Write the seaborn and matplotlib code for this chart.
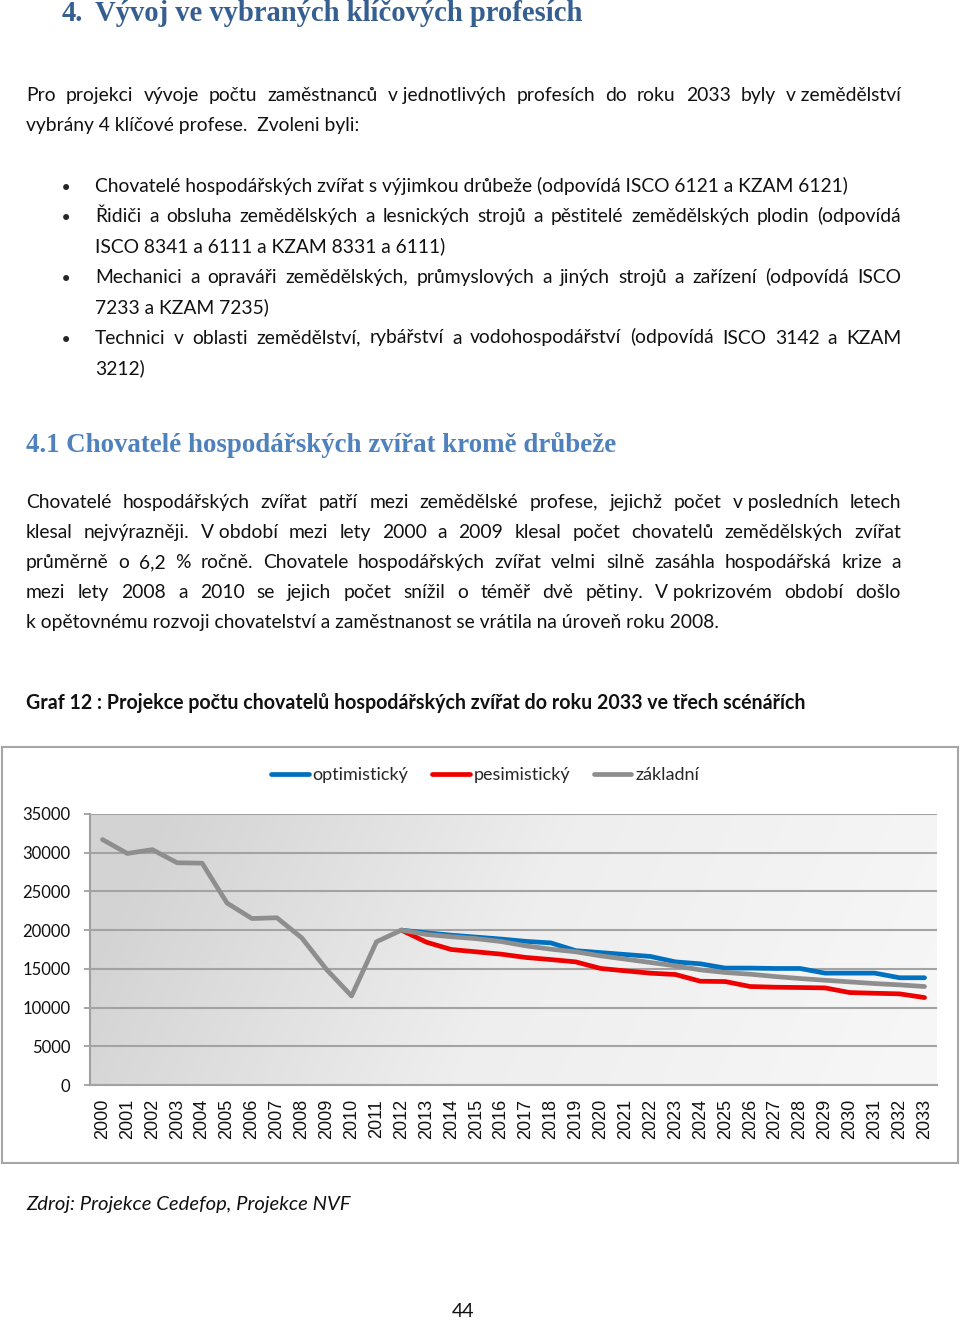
import numpy as np
import pandas as pd
import matplotlib
matplotlib.use("Agg")
import matplotlib.pyplot as plt
import seaborn as sns
from matplotlib.colors import LinearSegmentedColormap
from matplotlib.patches import Rectangle

# ---------------- data ----------------
years = list(range(2000, 2034))
zakladni = [31700, 29900, 30400, 28700, 28650, 23500, 21500, 21600, 19000, 14900,
            11500, 18500, 20000, 19450, 19150, 18900, 18530, 17970, 17540, 17200,
            16680, 16250, 15820, 15390, 14870, 14530, 14310, 14010, 13750, 13530,
            13320, 13100, 12930, 12720]
# projections start in 2012
proj_years = list(range(2012, 2034))
optimisticky = [20000, 19650, 19350, 19100, 18850, 18550, 18350, 17350, 17100, 16850,
                16600, 15900, 15650, 15100, 15100, 15050, 15050, 14450, 14450, 14450,
                13850, 13850]
pesimisticky = [20000, 18450, 17500, 17200, 16900, 16470, 16200, 15900, 15050, 14740,
                14440, 14270, 13400, 13360, 12720, 12630, 12590, 12540, 11940, 11850,
                11770, 11290]
scenare = ["optimistický", "pesimistický", "základní"]
barvy = ["#0070c0", "#ee0000", "#8e8e8e"]

heading = "Vývoj ve vybraných klíčových profesích"
intro = ["Pro projekci vývoje počtu zaměstnanců v\u00a0jednotlivých profesích do roku 2033 byly v\u00a0zemědělství",
         "vybrány 4 klíčové profese.  Zvoleni byli:"]
bullets = [
    ["Chovatelé hospodářských zvířat s výjimkou drůbeže (odpovídá ISCO 6121 a KZAM 6121)"],
    ["Řidiči a obsluha zemědělských a lesnických strojů a pěstitelé zemědělských plodin (odpovídá",
     "ISCO 8341 a 6111 a KZAM 8331 a 6111)"],
    ["Mechanici a opraváři zemědělských, průmyslových a jiných strojů a zařízení (odpovídá ISCO",
     "7233 a KZAM 7235)"],
    ["Technici v oblasti zemědělství, rybářství a vodohospodářství (odpovídá ISCO 3142 a KZAM",
     "3212)"],
]
subheading = "4.1 Chovatelé hospodářských zvířat kromě drůbeže"
para2 = ["Chovatelé hospodářských zvířat patří mezi zemědělské profese, jejichž počet v\u00a0posledních letech",
         "klesal nejvýrazněji. V\u00a0období mezi lety 2000 a 2009 klesal počet chovatelů zemědělských zvířat",
         "průměrně o 6,2 % ročně. Chovatele hospodářských zvířat velmi silně zasáhla hospodářská krize a",
         "mezi lety 2008 a 2010 se jejich počet snížil o téměř dvě pětiny. V\u00a0pokrizovém období došlo",
         "k\u00a0opětovnému rozvoji chovatelství a zaměstnanost se vrátila na úroveň roku 2008."]
graf_title = "Graf 12 : Projekce počtu chovatelů hospodářských zvířat do roku 2033 ve třech scénářích"
zdroj = "Zdroj: Projekce Cedefop, Projekce NVF"

# long table for seaborn
df = pd.concat([
    pd.DataFrame({"rok": proj_years, "pocet": optimisticky, "scenar": scenare[0]}),
    pd.DataFrame({"rok": proj_years, "pocet": pesimisticky, "scenar": scenare[1]}),
    pd.DataFrame({"rok": years, "pocet": zakladni, "scenar": scenare[2]}),
])
df["pos"] = df["rok"] - years[0]

sns.set_style("white")
plt.rcParams["font.family"] = ["Lato", "DejaVu Sans"]

W, H = 960, 1320
fig = plt.figure(figsize=(W / 100, H / 100), dpi=100)
renderer = fig.canvas.get_renderer()


def fx(x):
    return x / W


def fy(y):
    return 1 - y / H


def line(y, text, x0, x1=None, **kw):
    # y is the baseline in pixels; x1 given -> justified line
    if x1 is None:
        fig.text(fx(x0), fy(y), text, va="baseline", **kw)
        return
    words = text.split(" ")
    arts = [fig.text(0, fy(y), w, va="baseline", **kw) for w in words]
    widths = [a.get_window_extent(renderer).width for a in arts]
    gap = (x1 - x0 - sum(widths)) / (len(words) - 1)
    x = x0
    for a, w in zip(arts, widths):
        a.set_x(fx(x))
        x += w + gap


body = dict(fontsize=13.9, color="#111111")
serif_b = dict(family=["Liberation Serif", "DejaVu Serif"], fontweight="bold")

# ---------------- page text ----------------
fig.text(fx(62), fy(21), "4.", fontsize=20.6, color="#365f91", va="baseline", **serif_b)
fig.text(fx(95), fy(21), heading, fontsize=20.6, color="#365f91", va="baseline", **serif_b)

line(101, intro[0], 26, 901, **body)
line(131, intro[1], 26, **body)

y = 192
for b in bullets:
    fig.text(fx(66), fy(y + 3), "•", fontsize=15, ha="center", va="baseline", family="DejaVu Sans")
    for i, t in enumerate(b):
        if i < len(b) - 1:
            line(y, t, 95, 901, **body)
        else:
            line(y, t, 95, **body)
        y += 30.3

fig.text(fx(26), fy(452), subheading, fontsize=19.4, color="#4f81bd", va="baseline", **serif_b)

for i, t in enumerate(para2):
    if i < len(para2) - 1:
        line(508 + 30 * i, t, 26, 901, **body)
    else:
        line(508 + 30 * i, t, 26, **body)

fig.text(fx(26), fy(709), graf_title, fontsize=14.1, fontweight="bold", va="baseline", color="#111111")
fig.text(fx(26), fy(1210), zdroj, fontsize=14.6, style="italic", va="baseline", color="#111111")
fig.text(fx(463), fy(1317), "44", fontsize=14, ha="center", va="baseline", color="#111111")

# chart frame (behind the axes)
fig.patches.append(Rectangle((fx(2), fy(1163)), fx(956), (1163 - 747) / H,
                             transform=fig.transFigure, facecolor="white",
                             edgecolor="#a6a6a6", lw=1.5, zorder=-1))

# ---------------- chart ----------------
ax = fig.add_axes([fx(90), fy(1085), fx(937 - 90), (1085 - 814) / H])
ax.set_facecolor("none")
grad = np.linspace(0, 1, 256)[None, :] * np.ones((50, 1))
grad = np.clip(grad + np.linspace(0.15, -0.15, 50)[:, None] * 0.5, 0, 1)
cmap = LinearSegmentedColormap.from_list("bg", ["#d3d3d3", "#eeeeee", "#f6f6f6"])
ax.imshow(grad, cmap=cmap, extent=(-0.5, 33.5, 0, 35000), aspect="auto",
          origin="lower", zorder=0, interpolation="bicubic")

sns.lineplot(data=df, x="pos", y="pocet", hue="scenar", hue_order=scenare,
             palette=barvy, lw=3.4, sort=False, ax=ax, zorder=3)

ax.set_xlim(-0.5, 33.5)
ax.set_ylim(0, 35000)
ax.set_yticks(range(0, 35001, 5000))
ax.yaxis.grid(True, color="#a3a3a3", lw=1.5, zorder=1)
ax.set_axisbelow(False)
ax.set_xticks(range(len(years)))
ax.set_xticklabels(years, rotation=90, fontsize=13, family=["Liberation Sans", "DejaVu Sans"])
ax.set_xticks(np.arange(-0.5, len(years), 1), minor=True)
ax.tick_params(axis="x", which="major", length=0, pad=10, colors="#111111")
ax.tick_params(axis="x", which="minor", length=6, width=1.3, color="#a0a0a0")
ax.tick_params(axis="y", length=4, width=1.3, color="#a0a0a0", pad=10, labelsize=12,
               labelcolor="#111111", left=True)
for lab in ax.get_xticklabels():
    lab.set_va("top")
ax.set_xlabel("")
ax.set_ylabel("")
for s in ["top", "right"]:
    ax.spines[s].set_visible(False)
for s in ["left", "bottom"]:
    ax.spines[s].set_color("#a0a0a0")
    ax.spines[s].set_linewidth(1.5)

handles, labels = ax.get_legend_handles_labels()
ax.legend(handles, labels, loc="center", bbox_to_anchor=(fx(485), fy(775)),
          bbox_transform=fig.transFigure, ncol=3, frameon=False, fontsize=13,
          handlelength=2.1, handletextpad=0.2, columnspacing=1.3)

fig.savefig("out.png", dpi=100)
